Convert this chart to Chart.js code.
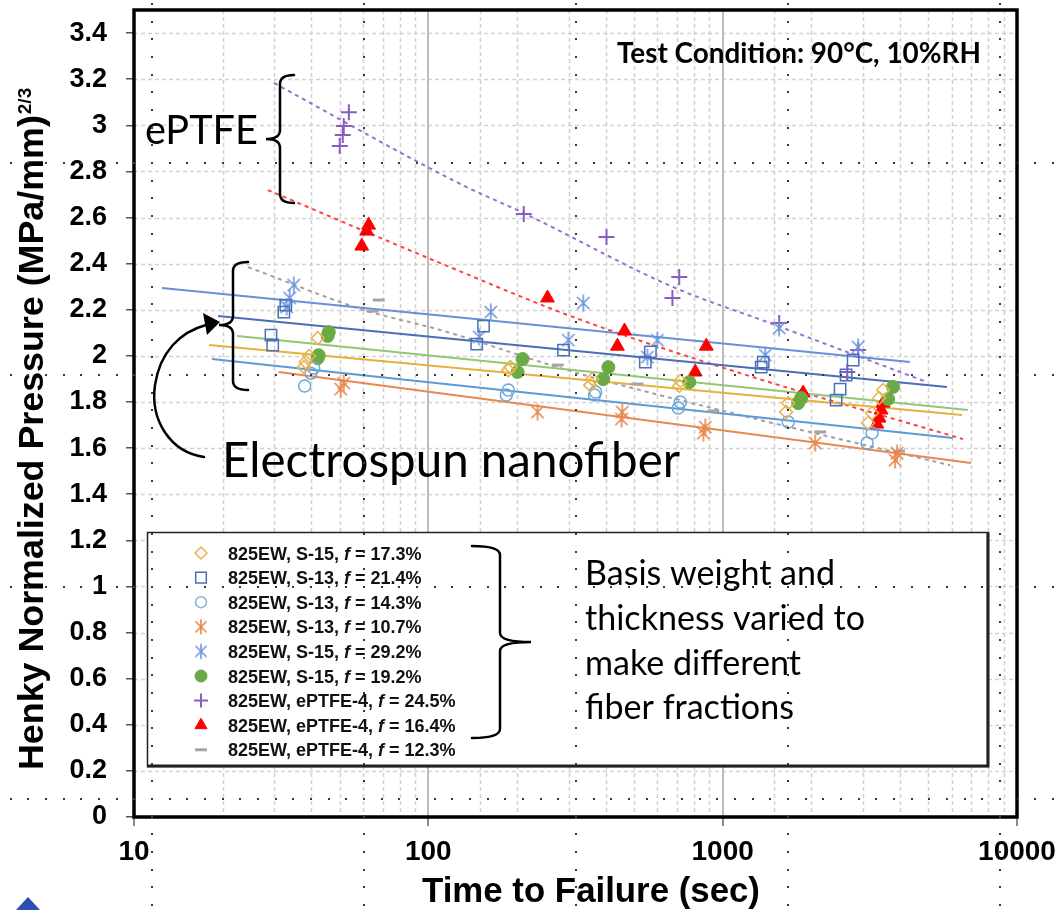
<!DOCTYPE html>
<html><head><meta charset="utf-8">
<script src="https://cdn.jsdelivr.net/npm/chart.js@4/dist/chart.umd.min.js"></script>
<style>html,body{margin:0;padding:0;background:#fff;}canvas{display:block;}</style>
</head><body>
<canvas id="c" width="1060" height="910"></canvas>
<script>
// ---------------- DATA ----------------
const seriesPrefix = ["825EW, S-15, ","825EW, S-13, ","825EW, S-13, ","825EW, S-13, ","825EW, S-15, ","825EW, S-15, ","825EW, ePTFE-4, ","825EW, ePTFE-4, ","825EW, ePTFE-4, "];
const seriesFraction = ["17.3%","21.4%","14.3%","10.7%","29.2%","19.2%","24.5%","16.4%","12.3%"];

// time to failure (sec) / Henky normalized pressure
const t_S15_173 = [42.1,39.3,38.3,37.8,190,187,361,355,718,712,1670,1643,3508,3400,3218,3119];
const p_S15_173 = [2.077,1.999,1.973,1.951,1.951,1.938,1.899,1.873,1.891,1.869,1.795,1.756,1.852,1.817,1.752,1.709];
const t_S13_214 = [32.3,32.8,29.2,29.6,154,146,288,568,546,1373,1352,2775,2627,2506,2429];
const p_S13_214 = [2.190,2.220,2.090,2.047,2.129,2.051,2.025,2.017,1.973,1.973,1.951,1.982,1.917,1.856,1.808];
const t_S13_143 = [40.8,39.9,38.0,187,184,370,367,718,707,1670,3218,3095];
const p_S13_143 = [1.947,1.925,1.869,1.852,1.830,1.843,1.830,1.800,1.774,1.713,1.665,1.622];
const t_S13_107 = [51.6,50.4,235,456,453,873,860,2062,3914,3853];
const p_S13_107 = [1.882,1.856,1.756,1.756,1.726,1.691,1.665,1.622,1.578,1.548];
const t_S15_292 = [34.9,33.8,33.0,163,149,336,299,600,555,1395,1556,2885];
const p_S15_292 = [2.307,2.251,2.212,2.190,2.082,2.229,2.068,2.068,1.995,2.003,2.121,2.038];
const t_S15_192 = [45.9,45.5,42.4,42.1,209,201,409,393,770,1848,1805,3793,3648];
const p_S15_192 = [2.103,2.086,2.003,1.990,1.986,1.930,1.951,1.899,1.886,1.817,1.795,1.865,1.813];
const t_PT_245 = [53.7,51.6,51.2,50.0,211,403,712,675,1556,2885,2650];
const p_PT_245 = [3.057,2.997,2.958,2.910,2.615,2.515,2.342,2.251,2.142,2.025,1.930];
const t_PT_164 = [62.7,61.7,59.4,254,464,439,880,807,1877,1820,3508,3453,3400,3340];
const p_PT_164 = [2.567,2.541,2.476,2.251,2.108,2.042,2.042,1.930,1.839,1.815,1.795,1.765,1.730,1.704];
const t_PT_123 = [67.8,64.7,275,513,929,2144,3975];
const p_PT_123 = [2.242,2.194,1.960,1.878,1.761,1.670,1.587];

// trend lines
const tTr_S15_173 = [17.97,6504];  const pTr_S15_173 = [2.047,1.743];
const tTr_S13_214 = [19.3,5782];   const pTr_S13_214 = [2.173,1.865];
const tTr_S13_143 = [18.4,6060];   const pTr_S13_143 = [1.986,1.644];
const tTr_S13_107 = [31.0,6978];   const pTr_S13_107 = [1.930,1.535];
const tTr_S15_292 = [12.45,4323];  const pTr_S15_292 = [2.294,1.973];
const tTr_S15_192 = [22.4,6808];   const pTr_S15_192 = [2.086,1.765];
const tTr_PT_245 = [29.9,128.7,211,680,1450,4946]; const pTr_PT_245 = [3.183,2.745,2.619,2.298,2.142,1.886];
const tTr_PT_164 = [28.5,110,311,1148,6553];       const pTr_PT_164 = [2.719,2.402,2.168,1.925,1.639];
const tTr_PT_123 = [24.4,60.3,110,311,1148,5920];  const pTr_PT_123 = [2.385,2.199,2.112,1.930,1.743,1.526];

const xTickLabels = [10,100,1000,10000];
const yMin = 0, yMax = 3.5, yStep = 0.2, yLastLabel = 3.4;

// ---------------- STYLES ----------------
function makeAsterisk(color, r, lw){
  const s = Math.ceil(2*r+4), c = document.createElement('canvas');
  c.width = s; c.height = s; const g = c.getContext('2d');
  g.strokeStyle = color; g.lineWidth = lw; g.lineCap='round';
  const m = s/2, d = r*0.72;
  g.beginPath();
  g.moveTo(m, m-r); g.lineTo(m, m+r);
  g.moveTo(m-d, m-d); g.lineTo(m+d, m+d);
  g.moveTo(m+d, m-d); g.lineTo(m-d, m+d);
  g.stroke();
  return c;
}
const markerStyles = [
  {ps:'rectRot', r:6.5, line:'#e9b44c', fill:'rgba(0,0,0,0)', bw:1.5},
  {ps:'rect', r:8, line:'#4a70b8', fill:'rgba(0,0,0,0)', bw:1.5},
  {ps:'circle', r:6, line:'#6ea6da', fill:'rgba(0,0,0,0)', bw:1.5},
  {ps:makeAsterisk('#e8864a',8,1.6), r:8, line:'#e8864a', fill:'#e8864a', bw:1.5},
  {ps:makeAsterisk('#7096dc',8,1.6), r:8, line:'#7096dc', fill:'#7096dc', bw:1.5},
  {ps:'circle', r:6.5, line:'#6aaa45', fill:'#6aaa45', bw:1},
  {ps:'cross', r:8, line:'#8a5cc0', fill:'#8a5cc0', bw:2},
  {ps:'triangle', r:8, line:'#ff0000', fill:'#ff0000', bw:1},
  {ps:'line', r:6, line:'#a5a5a5', fill:'#a5a5a5', bw:3},
];
const legendStyles = [
  {ps:'rectRot', r:6, line:'#e9b44c', fill:'rgba(0,0,0,0)', bw:1.5},
  {ps:'rect', r:7.5, line:'#4a70b8', fill:'rgba(0,0,0,0)', bw:1.5},
  {ps:'circle', r:5.5, line:'#86b2e0', fill:'rgba(0,0,0,0)', bw:1.5},
  {ps:makeAsterisk('#e8864a',7,1.6), r:7, line:'#e8864a', fill:'#e8864a', bw:1.5},
  {ps:makeAsterisk('#7096dc',7,1.6), r:7, line:'#7096dc', fill:'#7096dc', bw:1.5},
  {ps:'circle', r:6, line:'#6aaa45', fill:'#6aaa45', bw:1},
  {ps:'cross', r:7, line:'#8a5cc0', fill:'#8a5cc0', bw:2},
  {ps:'triangle', r:7, line:'#ff0000', fill:'#ff0000', bw:1},
  {ps:'line', r:6, line:'#a5a5a5', fill:'#a5a5a5', bw:3},
];

const pts = (ts, ps) => ts.map((t,i)=>({x:t, y:ps[i]}));
const scatterData = [
  pts(t_S15_173,p_S15_173), pts(t_S13_214,p_S13_214), pts(t_S13_143,p_S13_143),
  pts(t_S13_107,p_S13_107), pts(t_S15_292,p_S15_292), pts(t_S15_192,p_S15_192),
  pts(t_PT_245,p_PT_245), pts(t_PT_164,p_PT_164), pts(t_PT_123,p_PT_123)
];
const trendDefs = [
  {d:pts(tTr_S15_173,pTr_S15_173), c:'#e4b23a', dash:[]},
  {d:pts(tTr_S13_214,pTr_S13_214), c:'#4a6db8', dash:[]},
  {d:pts(tTr_S13_143,pTr_S13_143), c:'#5b9bd5', dash:[]},
  {d:pts(tTr_S13_107,pTr_S13_107), c:'#e8894d', dash:[]},
  {d:pts(tTr_S15_292,pTr_S15_292), c:'#6690d8', dash:[]},
  {d:pts(tTr_S15_192,pTr_S15_192), c:'#93c872', dash:[]},
  {d:pts(tTr_PT_245,pTr_PT_245), c:'#9a70cf', dash:[4,4]},
  {d:pts(tTr_PT_164,pTr_PT_164), c:'#ff4040', dash:[4,4]},
  {d:pts(tTr_PT_123,pTr_PT_123), c:'#a0a0a0', dash:[4,4]},
];

const datasets = [];
scatterData.forEach((d,i)=>{
  const s = markerStyles[i];
  datasets.push({type:'scatter', data:d, showLine:false,
    pointStyle:s.ps, pointRadius:s.r, pointHoverRadius:s.r,
    borderColor:s.line, backgroundColor:s.fill, borderWidth:s.bw,
    pointBorderColor:s.line, pointBackgroundColor:s.fill, pointBorderWidth:s.bw});
});
trendDefs.forEach(t=>{
  datasets.push({type:'scatter', data:t.d, showLine:true, pointRadius:0, pointHoverRadius:0,
    borderColor:t.c, backgroundColor:t.c, borderWidth:2, borderDash:t.dash, fill:false,
    tension:0.4, cubicInterpolationMode:'monotone'});
});

const isPow10 = v => { const l = Math.log10(v); return Math.abs(l-Math.round(l))<1e-6; };

// ---------------- PLUGINS ----------------
const gridPlugin = {
  id:'customGrid',
  beforeDatasetsDraw(chart){
    const {ctx, chartArea:a, scales:{x,y}} = chart;
    ctx.save();
    ctx.beginPath(); ctx.rect(a.left,a.top,a.right-a.left,a.bottom-a.top); ctx.clip();
    ctx.lineWidth = 1.6; ctx.strokeStyle = '#d2d2d2'; ctx.setLineDash([4,3]);
    y.ticks.forEach(t=>{
      const py = Math.round(y.getPixelForValue(t.value))+0.5;
      ctx.beginPath(); ctx.moveTo(a.left,py); ctx.lineTo(a.right,py); ctx.stroke();
    });
    x.ticks.forEach(t=>{
      if (isPow10(t.value)) return;
      const px = Math.round(x.getPixelForValue(t.value))+0.5;
      ctx.beginPath(); ctx.moveTo(px,a.top); ctx.lineTo(px,a.bottom); ctx.stroke();
    });
    ctx.setLineDash([]); ctx.strokeStyle = '#bcbcbc'; ctx.lineWidth = 2;
    x.ticks.forEach(t=>{
      if (!isPow10(t.value) || t.value===x.min || t.value===x.max) return;
      const px = Math.round(x.getPixelForValue(t.value));
      ctx.beginPath(); ctx.moveTo(px,a.top); ctx.lineTo(px,a.bottom); ctx.stroke();
    });
    ctx.restore();
  }
};

function fitSize(ctx, text, weight, family, width){
  ctx.font = weight+' 100px '+family;
  return 100*width/ctx.measureText(text).width;
}
function drawMarker(ctx, s, x, y){
  ctx.save();
  ctx.strokeStyle = s.line; ctx.fillStyle = s.fill; ctx.lineWidth = s.bw;
  if (s.ps instanceof HTMLCanvasElement){
    ctx.drawImage(s.ps, x - s.ps.width/2, y - s.ps.height/2);
  } else if (Chart.helpers && Chart.helpers.drawPoint){
    Chart.helpers.drawPoint(ctx, {pointStyle:s.ps, radius:s.r, rotation:0, borderWidth:s.bw}, x, y);
  } else {
    ctx.beginPath(); ctx.arc(x,y,s.r,0,Math.PI*2); ctx.fill(); ctx.stroke();
  }
  ctx.restore();
}

const overlayPlugin = {
  id:'overlay',
  afterDraw(chart){
    const {ctx, chartArea:a} = chart;
    ctx.save();
    // frame
    ctx.strokeStyle = '#000'; ctx.lineWidth = 3.5;
    ctx.strokeRect(a.left, a.top, a.right-a.left, a.bottom-a.top);

    // axis titles
    ctx.fillStyle = '#000';
    const fam = '"Liberation Sans", Arial, sans-serif';
    const xt = 'Time to Failure (sec)';
    let fs = fitSize(ctx, xt, 'bold', fam, 338);
    ctx.font = 'bold '+fs+'px '+fam; ctx.textAlign='center'; ctx.textBaseline='alphabetic';
    ctx.fillText(xt, 591, 902);

    const yt = 'Henky Normalized Pressure (MPa/mm)';
    fs = fitSize(ctx, yt, 'bold', fam, 655);
    ctx.save();
    ctx.translate(43, 770); ctx.rotate(-Math.PI/2);
    ctx.font = 'bold '+fs+'px '+fam; ctx.textAlign='left';
    ctx.fillText(yt, 0, 0);
    const wMain = ctx.measureText(yt).width;
    ctx.font = 'bold 19px '+fam;
    ctx.fillText('2/3', wMain+1, -12);
    ctx.restore();

    // legend box
    const L = {l:147, t:532, r:987, b:766};
    ctx.fillStyle = '#fff'; ctx.fillRect(L.l, L.t, L.r-L.l, L.b-L.t);
    ctx.strokeStyle = '#222'; ctx.lineWidth = 1.5;
    ctx.strokeRect(L.l+0.5, L.t+0.5, L.r-L.l, L.b-L.t);
    ctx.lineWidth = 3; ctx.beginPath(); ctx.moveTo(L.l, L.b); ctx.lineTo(L.r+1, L.b); ctx.lineTo(L.r+1, L.t); ctx.stroke();

    const rowY0 = 553, rowDy = 24.6;
    seriesPrefix.forEach((p,i)=>{
      const cy = rowY0 + i*rowDy;
      drawMarker(ctx, legendStyles[i], 201, cy);
      ctx.fillStyle = '#111'; ctx.textAlign='left'; ctx.textBaseline='alphabetic';
      let x = 228; const by = cy + 6.5;
      ctx.font = 'bold 18px '+fam; ctx.fillText(p, x, by); x += ctx.measureText(p).width;
      ctx.font = 'italic bold 18px '+fam; ctx.fillText('f', x, by); x += ctx.measureText('f').width;
      ctx.font = 'bold 18px '+fam; ctx.fillText(' = '+seriesFraction[i], x, by);
    });

    // annotation texts
    const cal = 'Lato, "Open Sans", sans-serif';
    ctx.fillStyle = '#000'; ctx.textAlign='left'; ctx.textBaseline='alphabetic';
    const tc = 'Test Condition: 90°C, 10%RH';
    fs = fitSize(ctx, tc, 'bold', cal, 364); ctx.font = 'bold '+fs+'px '+cal; ctx.fillText(tc, 617, 63);
    fs = fitSize(ctx, 'ePTFE', 'normal', cal, 113); ctx.font = fs+'px '+cal; ctx.fillText('ePTFE', 145, 144);
    const es = 'Electrospun nanofiber';
    fs = fitSize(ctx, es, 'normal', cal, 458); ctx.font = fs+'px '+cal; ctx.fillText(es, 222, 477);
    const bl = ['Basis weight and','thickness varied to','make different','fiber fractions'];
    const bby = [585, 630, 675, 719];
    fs = fitSize(ctx, bl[1], 'normal', cal, 280); ctx.font = fs+'px '+cal;
    bl.forEach((s,i)=>ctx.fillText(s, 585, bby[i]));

    // braces
    ctx.strokeStyle = '#000'; ctx.lineWidth = 2.5; ctx.lineCap='round';
    function braceLeft(x, top, mid, bot, tipX, endX){
      ctx.beginPath();
      ctx.moveTo(endX, top);
      ctx.quadraticCurveTo(x, top, x, top+9);
      ctx.lineTo(x, mid-9);
      ctx.quadraticCurveTo(x, mid, tipX, mid);
      ctx.quadraticCurveTo(x, mid, x, mid+9);
      ctx.lineTo(x, bot-9);
      ctx.quadraticCurveTo(x, bot, endX, bot);
      ctx.stroke();
    }
    braceLeft(280, 75, 139, 203, 266, 294);
    braceLeft(233, 262, 325, 390, 219, 248);
    braceLeft(500, 546, 642, 738, 531, 472);

    // curved arrow
    ctx.beginPath();
    ctx.moveTo(204, 457);
    ctx.bezierCurveTo(170, 452, 150, 420, 155, 385);
    ctx.bezierCurveTo(160, 352, 180, 332, 206, 325);
    ctx.stroke();
    ctx.fillStyle = '#000';
    ctx.beginPath(); ctx.moveTo(220, 322); ctx.lineTo(203, 313); ctx.lineTo(207, 335); ctx.closePath(); ctx.fill();

    // slide guide dots
    ctx.fillStyle = '#3a3a3a';
    const step = 212/12;
    [163,375,587,799].forEach(ry=>{ for(let x=152-step*8; x<1060; x+=step) ctx.fillRect(Math.round(x)-1, ry-1, 2, 2); });
    [152,364,576,788,1000].forEach(cx=>{ for(let y=163-step*9; y<910; y+=step) ctx.fillRect(cx-1, Math.round(y)-1, 2, 2); });

    // small logo corner
    ctx.fillStyle = '#2b4fb0';
    ctx.beginPath(); ctx.moveTo(16,910); ctx.lineTo(28,897); ctx.lineTo(40,910); ctx.closePath(); ctx.fill();
    ctx.restore();
  }
};

// ---------------- CHART ----------------
new Chart(document.getElementById('c'), {
  type:'scatter',
  data:{datasets},
  options:{
    responsive:false, animation:false, devicePixelRatio:1,
    layout:{padding:{left:0, right:43, top:10, bottom:0}},
    plugins:{legend:{display:false}, tooltip:{enabled:false}},
    scales:{
      x:{type:'logarithmic', min:10, max:10000,
        border:{display:false},
        grid:{drawOnChartArea:false, drawTicks:true, tickLength:9, lineWidth:2,
              tickColor:(c)=> (c.tick && isPow10(c.tick.value)) ? '#8a8a8a' : 'rgba(0,0,0,0)'},
        ticks:{autoSkip:false, maxRotation:0, minRotation:0, padding:9, color:'#000',
               font:{family:'"Liberation Sans", Arial, sans-serif', size:28, weight:'bold'},
               callback:(v)=> xTickLabels.includes(Math.round(v)) && isPow10(v) ? String(Math.round(v)) : ''},
        afterFit:(s)=>{ s.height = 93; s.paddingLeft = 0; s.paddingRight = 0; s.paddingTop = 0; s.paddingBottom = 0; }
      },
      y:{type:'linear', min:yMin, max:yMax,
        border:{display:false},
        grid:{drawOnChartArea:false, drawTicks:true, tickLength:8, lineWidth:1.5, tickColor:'#555'},
        ticks:{stepSize:yStep, includeBounds:false, autoSkip:false, padding:19, color:'#000',
               font:{family:'"Liberation Sans", Arial, sans-serif', size:27, weight:'bold'},
               callback:(v)=> String(Math.round(v*10)/10)},
        afterBuildTicks:(ax)=>{ ax.ticks = ax.ticks.filter(t=>t.value <= yLastLabel+1e-6); },
        afterFit:(s)=>{ s.width = 134; s.paddingLeft = 0; s.paddingRight = 0; s.paddingTop = 0; s.paddingBottom = 0; }
      }
    }
  },
  plugins:[gridPlugin, overlayPlugin]
});
</script>
</body></html>
